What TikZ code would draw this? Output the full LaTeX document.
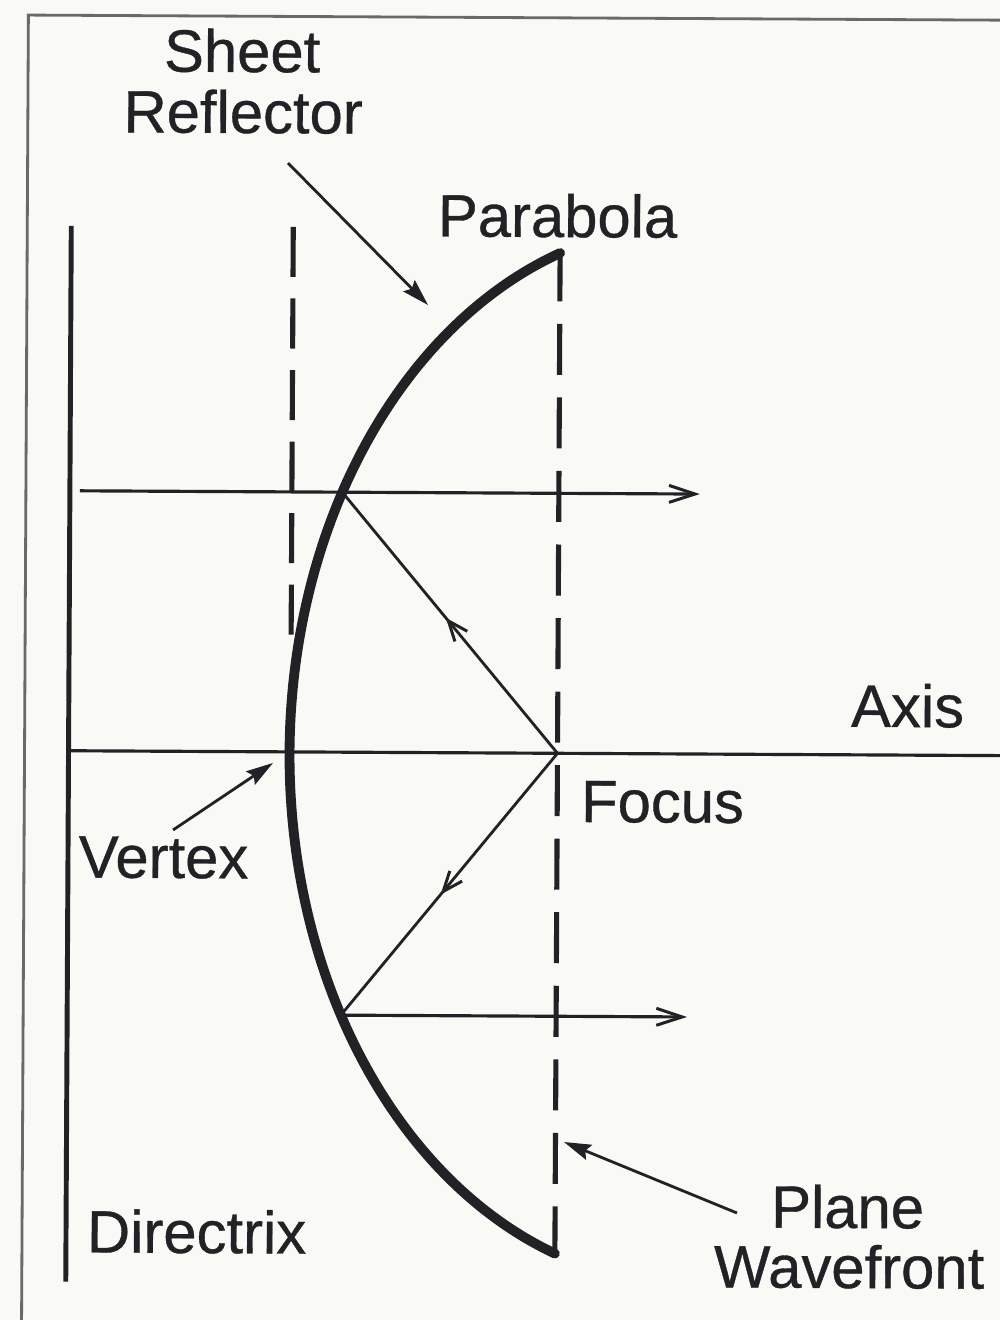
\documentclass[tikz,border=0pt]{standalone}
\usepackage{fontspec}
\setmainfont{Liberation Sans}
\newfontfamily\lblfont{Liberation Sans}[FakeBold=0.6]
\usetikzlibrary{arrows.meta,decorations.markings}
\definecolor{bg}{RGB}{249,249,245}
\definecolor{ink}{RGB}{34,34,38}
\definecolor{framecol}{RGB}{105,105,105}
\tikzset{
  lbl/.style={anchor=base, inner sep=0pt, outer sep=0pt, text=ink, transform shape,
    font=\lblfont\fontsize{17}{17}\selectfont},
  reflector/.style={draw=ink, line width=2.8pt, line cap=round},
  dashline/.style={draw=ink, line width=1.45pt, dash pattern=on 0.51cm off 0.225cm},
  directrixline/.style={draw=ink, line width=1.4pt},
  thinline/.style={draw=ink, line width=0.9pt},
  raytip/.style={-{Straight Barb[length=0.26cm,width=0.17cm,line width=0.85pt]}},
  midarrow/.style={postaction={decorate}, decoration={markings,
    mark=at position #1 with {\arrow{Straight Barb[length=0.2cm,width=0.16cm,line width=0.85pt]}}}},
  pointer/.style={draw=ink, line width=0.8pt, -{Stealth[length=0.27cm,width=0.16cm,inset=0.04cm]}},
  framestyle/.style={draw=framecol, line width=0.8pt}
}
\begin{document}
\begin{tikzpicture}[x=0.01cm,y=-0.01cm]
\fill[bg] (0,0) rectangle (1000,1320);
\useasboundingbox (0,0) rectangle (1000,1320);
\clip (0,0) rectangle (1000,1320);
\begin{scope}[rotate around={-0.3:(500,660)}]
  % frame
  \coordinate (fcorner) at (25,17.5);
  \coordinate (fright) at (1040,17.5);
  \coordinate (fbottom) at (25,1345);
  \draw[framestyle] (fright) -- (fcorner) -- (fbottom);

  % key points
  \coordinate (F) at (558,753);
  \coordinate (P1) at (341.4,493);
  \coordinate (P2) at (342.7,1016);
  \coordinate (R1s) at (79,493);
  \coordinate (R1e) at (699,493);
  \coordinate (R2e) at (689,1016);
  \coordinate (DirTop) at (69,228);
  \coordinate (DirBot) at (69,1284);
  \coordinate (AxisEnd) at (1015,753);
  \coordinate (LdTop) at (291,228);
  \coordinate (LdBot) at (291,639);
  \coordinate (WfTop) at (558,250);
  \coordinate (WfBot) at (558,1257);

  % directrix and axis
  \draw[directrixline] (DirTop) -- (DirBot);
  \draw[thinline] (DirTop |- F) -- (AxisEnd);

  % dashed lines
  \draw[dashline, dash pattern=on 0.5cm off 0.215cm] (LdTop) -- (LdBot);
  \draw[dashline] (WfTop) -- (WfBot);

  % parabola (sheet reflector)
  \draw[reflector] plot[domain=-70.73:70.73, samples=90, smooth]
     ({690-400*cos(\x)},{753+530*sin(\x)});

  % rays
  \draw[thinline, raytip] (R1s) -- (R1e);
  \draw[thinline, line width=0.8pt, midarrow=0.52] (F) -- (P1);
  \draw[thinline, line width=0.8pt, midarrow=0.54] (F) -- (P2);
  \draw[thinline, raytip] (P2) -- (R2e);

  % labels
  \node[lbl] (sheet) at (239,73.3) {Sheet};
  \node[lbl] (refl) at (240.3,134.3) {Reflector};
  \node[lbl] (parab) at (555.3,236.7) {Parabola};
  \node[lbl] (axis) at (907.9,724.9) {Axis};
  \node[lbl] (focus) at (663.3,821.6) {Focus};
  \node[lbl] (vertex) at (164.6,879.7) {Vertex};
  \node[lbl] (directrix) at (199.6,1254.6) {Directrix};
  \node[lbl] (plane) at (850.5,1226.2) {Plane};
  \node[lbl] (wavefront) at (852.3,1286.2) {Wavefront};

  % pointer arrows
  \coordinate (srTail) at (285.4,164.1);
  \coordinate (srTip) at (426.2,305.4);
  \coordinate (vxTail) at (173.9,831.7);
  \coordinate (vxTip) at (273.5,764.2);
  \coordinate (pwTail) at (739.9,1211.8);
  \coordinate (pwTip) at (566.5,1141.7);
  \draw[pointer] (srTail) -- (srTip);
  \draw[pointer] (vxTail) -- (vxTip);
  \draw[pointer] (pwTail) -- (pwTip);
\end{scope}
\end{tikzpicture}
\end{document}
